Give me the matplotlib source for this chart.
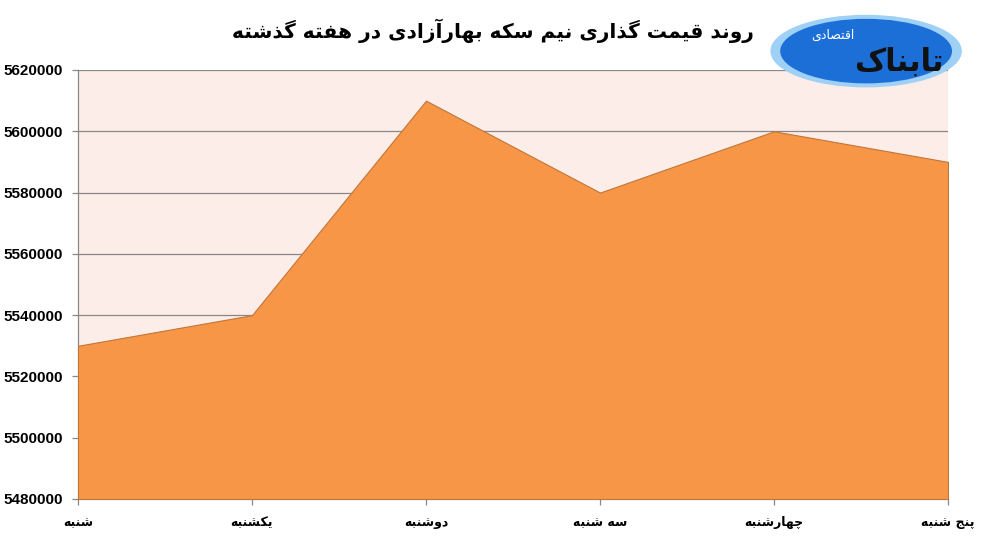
import matplotlib
matplotlib.use("Agg")
import matplotlib.pyplot as plt
from matplotlib.patches import Ellipse

# data
days = ["شنبه", "یکشنبه", "دوشنبه", "سه شنبه", "چهارشنبه", "پنج شنبه"]
prices = [5530000, 5540000, 5610000, 5580000, 5600000, 5590000]
title = "روند قیمت گذاری نیم سکه بهارآزادی در هفته گذشته"
logo_main = "تابناک"
logo_sub = "اقتصادی"

# matplotlib has no arabic shaping, so map letters to presentation forms
# (isolated, final, initial, medial); right-joining letters have only 2
FORMS = {
    "ا": (0xFE8D, 0xFE8E), "آ": (0xFE81, 0xFE82),
    "د": (0xFEA9, 0xFEAA), "ذ": (0xFEAB, 0xFEAC),
    "ر": (0xFEAD, 0xFEAE), "ز": (0xFEAF, 0xFEB0),
    "و": (0xFEED, 0xFEEE),
    "ب": (0xFE8F, 0xFE90, 0xFE91, 0xFE92),
    "پ": (0xFB56, 0xFB57, 0xFB58, 0xFB59),
    "ت": (0xFE95, 0xFE96, 0xFE97, 0xFE98),
    "ج": (0xFE9D, 0xFE9E, 0xFE9F, 0xFEA0),
    "چ": (0xFB7A, 0xFB7B, 0xFB7C, 0xFB7D),
    "س": (0xFEB1, 0xFEB2, 0xFEB3, 0xFEB4),
    "ش": (0xFEB5, 0xFEB6, 0xFEB7, 0xFEB8),
    "ص": (0xFEB9, 0xFEBA, 0xFEBB, 0xFEBC),
    "ف": (0xFED1, 0xFED2, 0xFED3, 0xFED4),
    "ق": (0xFED5, 0xFED6, 0xFED7, 0xFED8),
    "ک": (0xFB8E, 0xFB8F, 0xFB90, 0xFB91),
    "گ": (0xFB92, 0xFB93, 0xFB94, 0xFB95),
    "ل": (0xFEDD, 0xFEDE, 0xFEDF, 0xFEE0),
    "م": (0xFEE1, 0xFEE2, 0xFEE3, 0xFEE4),
    "ن": (0xFEE5, 0xFEE6, 0xFEE7, 0xFEE8),
    "ه": (0xFEE9, 0xFEEA, 0xFEEB, 0xFEEC),
    "ی": (0xFBFC, 0xFBFD, 0xFBFE, 0xFBFF),
}


def fa(s):
    out = []
    for i, c in enumerate(s):
        if c not in FORMS:
            out.append(c)
            continue
        prev = s[i - 1] if i > 0 else " "
        nxt = s[i + 1] if i + 1 < len(s) else " "
        join_prev = prev in FORMS and len(FORMS[prev]) == 4
        join_next = nxt in FORMS and len(FORMS[c]) == 4
        f = FORMS[c]
        if join_prev and join_next:
            out.append(chr(f[3]))
        elif join_prev:
            out.append(chr(f[1]))
        elif join_next:
            out.append(chr(f[2]))
        else:
            out.append(chr(f[0]))
    return "".join(out)[::-1]


plt.rcParams["font.family"] = ["DejaVu Sans"]

fig = plt.figure(figsize=(9.82, 5.38), dpi=100)
ax = fig.add_axes([0.0794, 0.0725, 0.8860, 0.7974])
ax.set_facecolor("#fcede8")

x = list(range(len(days)))
ax.fill_between(x, prices, 5480000, color="#f79646", edgecolor="#c0763a",
                linewidth=0.8, zorder=3)

ax.set_xlim(0, len(days) - 1)
ax.set_ylim(5480000, 5620000)
yt = list(range(5480000, 5620001, 20000))
ax.set_yticks(yt)
ax.set_yticklabels([str(v) for v in yt], fontsize=11, fontweight="bold",
                   family=["Liberation Sans", "DejaVu Sans"])
ax.set_xticks(x)
ax.set_xticklabels([fa(d) for d in days], fontsize=9, fontweight="bold")
ax.grid(axis="y", color="#888888", linewidth=0.9, zorder=1)
ax.tick_params(axis="both", colors="#888888", length=4, width=0.9,
               labelcolor="black")
ax.tick_params(axis="y", pad=7)
ax.tick_params(axis="x", pad=8)
for side in ["top", "right"]:
    ax.spines[side].set_visible(False)
for side in ["left", "bottom"]:
    ax.spines[side].set_color("#888888")
    ax.spines[side].set_linewidth(0.9)

fig.text(0.502, 0.943, fa(title), ha="center", va="center", fontsize=14.5,
         fontweight="bold")

# logo, roughly
fig.patches.append(Ellipse((0.882, 0.905), 0.195, 0.135, transform=fig.transFigure,
                           facecolor="#9fd0f5", edgecolor="none", zorder=4))
fig.patches.append(Ellipse((0.882, 0.905), 0.175, 0.12, transform=fig.transFigure,
                           facecolor="#1c6fd6", edgecolor="none", zorder=5))
fig.text(0.915, 0.885, fa(logo_main), ha="center", va="center", fontsize=22,
         fontweight="bold", color="#111111", zorder=6)
fig.text(0.848, 0.935, fa(logo_sub), ha="center", va="center", fontsize=9,
         color="white", zorder=6)

fig.savefig("out.png", dpi=100)
